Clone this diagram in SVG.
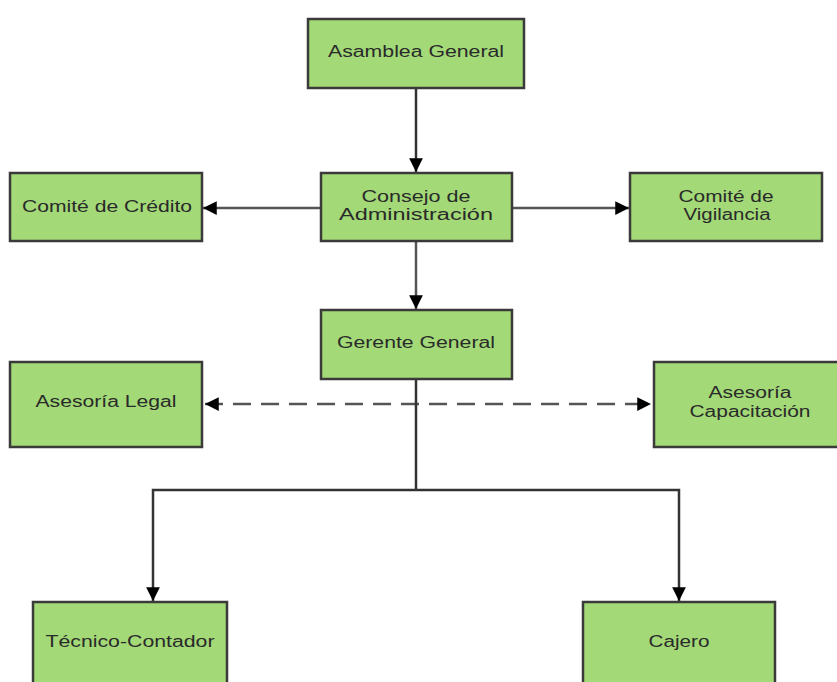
<svg xmlns="http://www.w3.org/2000/svg" width="837" height="682" viewBox="0 0 837 682">
<style>
.box{fill:#a3d977;stroke:#3a3a3a;stroke-width:2.5}
.t{font-family:"Liberation Sans",Arial,sans-serif;font-size:16px;fill:#2a2a2a;text-anchor:middle}
.c{fill:none;stroke:#333;stroke-width:2.5}
.g{fill:none;stroke:#555;stroke-width:2.5}
</style>
<defs>
<marker id="ah" viewBox="0 0 10 10" refX="10" refY="5" markerWidth="5.5" markerHeight="5.5" markerUnits="strokeWidth" orient="auto-start-reverse">
<path d="M0,0 L10,5 L0,10 z" fill="#000"/>
</marker>
</defs>
<rect width="837" height="682" fill="#fff"/>
<g id="connectors">
<line class="c" x1="416" y1="88" x2="416" y2="172" stroke-width="3.5" marker-end="url(#ah)"/>
<line class="g" x1="321" y1="208" x2="203" y2="208" marker-end="url(#ah)"/>
<line class="g" x1="512" y1="208" x2="629" y2="208" marker-end="url(#ah)"/>
<line class="g" x1="416" y1="241" x2="416" y2="309" marker-end="url(#ah)"/>
<line class="g" x1="205" y1="404" x2="651" y2="404" stroke-dasharray="18,10" marker-start="url(#ah)" marker-end="url(#ah)"/>
<line class="c" x1="416" y1="379" x2="416" y2="490" stroke-width="3"/>
<polyline class="c" points="153,601 153,490 679,490 679,601" marker-start="url(#ah)" marker-end="url(#ah)"/>
</g>
<g id="asamblea"><rect class="box" x="308" y="19" width="216" height="69"/><text class="t" x="416" y="57" textLength="176" lengthAdjust="spacingAndGlyphs">Asamblea General</text></g>
<g id="credito"><rect class="box" x="10" y="173" width="192" height="68"/><text class="t" x="107" y="212" textLength="170" lengthAdjust="spacingAndGlyphs">Comité de Crédito</text></g>
<g id="consejo"><rect class="box" x="321" y="173" width="191" height="68"/><text class="t" x="416" y="202" textLength="109" lengthAdjust="spacingAndGlyphs">Consejo de</text><text class="t" x="416" y="220" textLength="154" lengthAdjust="spacingAndGlyphs">Administración</text></g>
<g id="vigilancia"><rect class="box" x="630" y="173" width="192" height="68"/><text class="t" x="726" y="202" textLength="95" lengthAdjust="spacingAndGlyphs">Comité de</text><text class="t" x="727" y="220" textLength="87" lengthAdjust="spacingAndGlyphs">Vigilancia</text></g>
<g id="gerente"><rect class="box" x="321" y="310" width="191" height="69"/><text class="t" x="416" y="348" textLength="158" lengthAdjust="spacingAndGlyphs">Gerente General</text></g>
<g id="legal"><rect class="box" x="10" y="362" width="192" height="85"/><text class="t" x="106" y="407" textLength="141" lengthAdjust="spacingAndGlyphs">Asesoría Legal</text></g>
<g id="capacitacion"><rect class="box" x="654" y="362" width="192" height="85"/><text class="t" x="750" y="398" textLength="83" lengthAdjust="spacingAndGlyphs">Asesoría</text><text class="t" x="750" y="417" textLength="121" lengthAdjust="spacingAndGlyphs">Capacitación</text></g>
<g id="tecnico"><rect class="box" x="33" y="602" width="194" height="90"/><text class="t" x="130" y="647" textLength="169" lengthAdjust="spacingAndGlyphs">Técnico-Contador</text></g>
<g id="cajero"><rect class="box" x="583" y="602" width="192" height="90"/><text class="t" x="679" y="647" textLength="61" lengthAdjust="spacingAndGlyphs">Cajero</text></g>
</svg>
